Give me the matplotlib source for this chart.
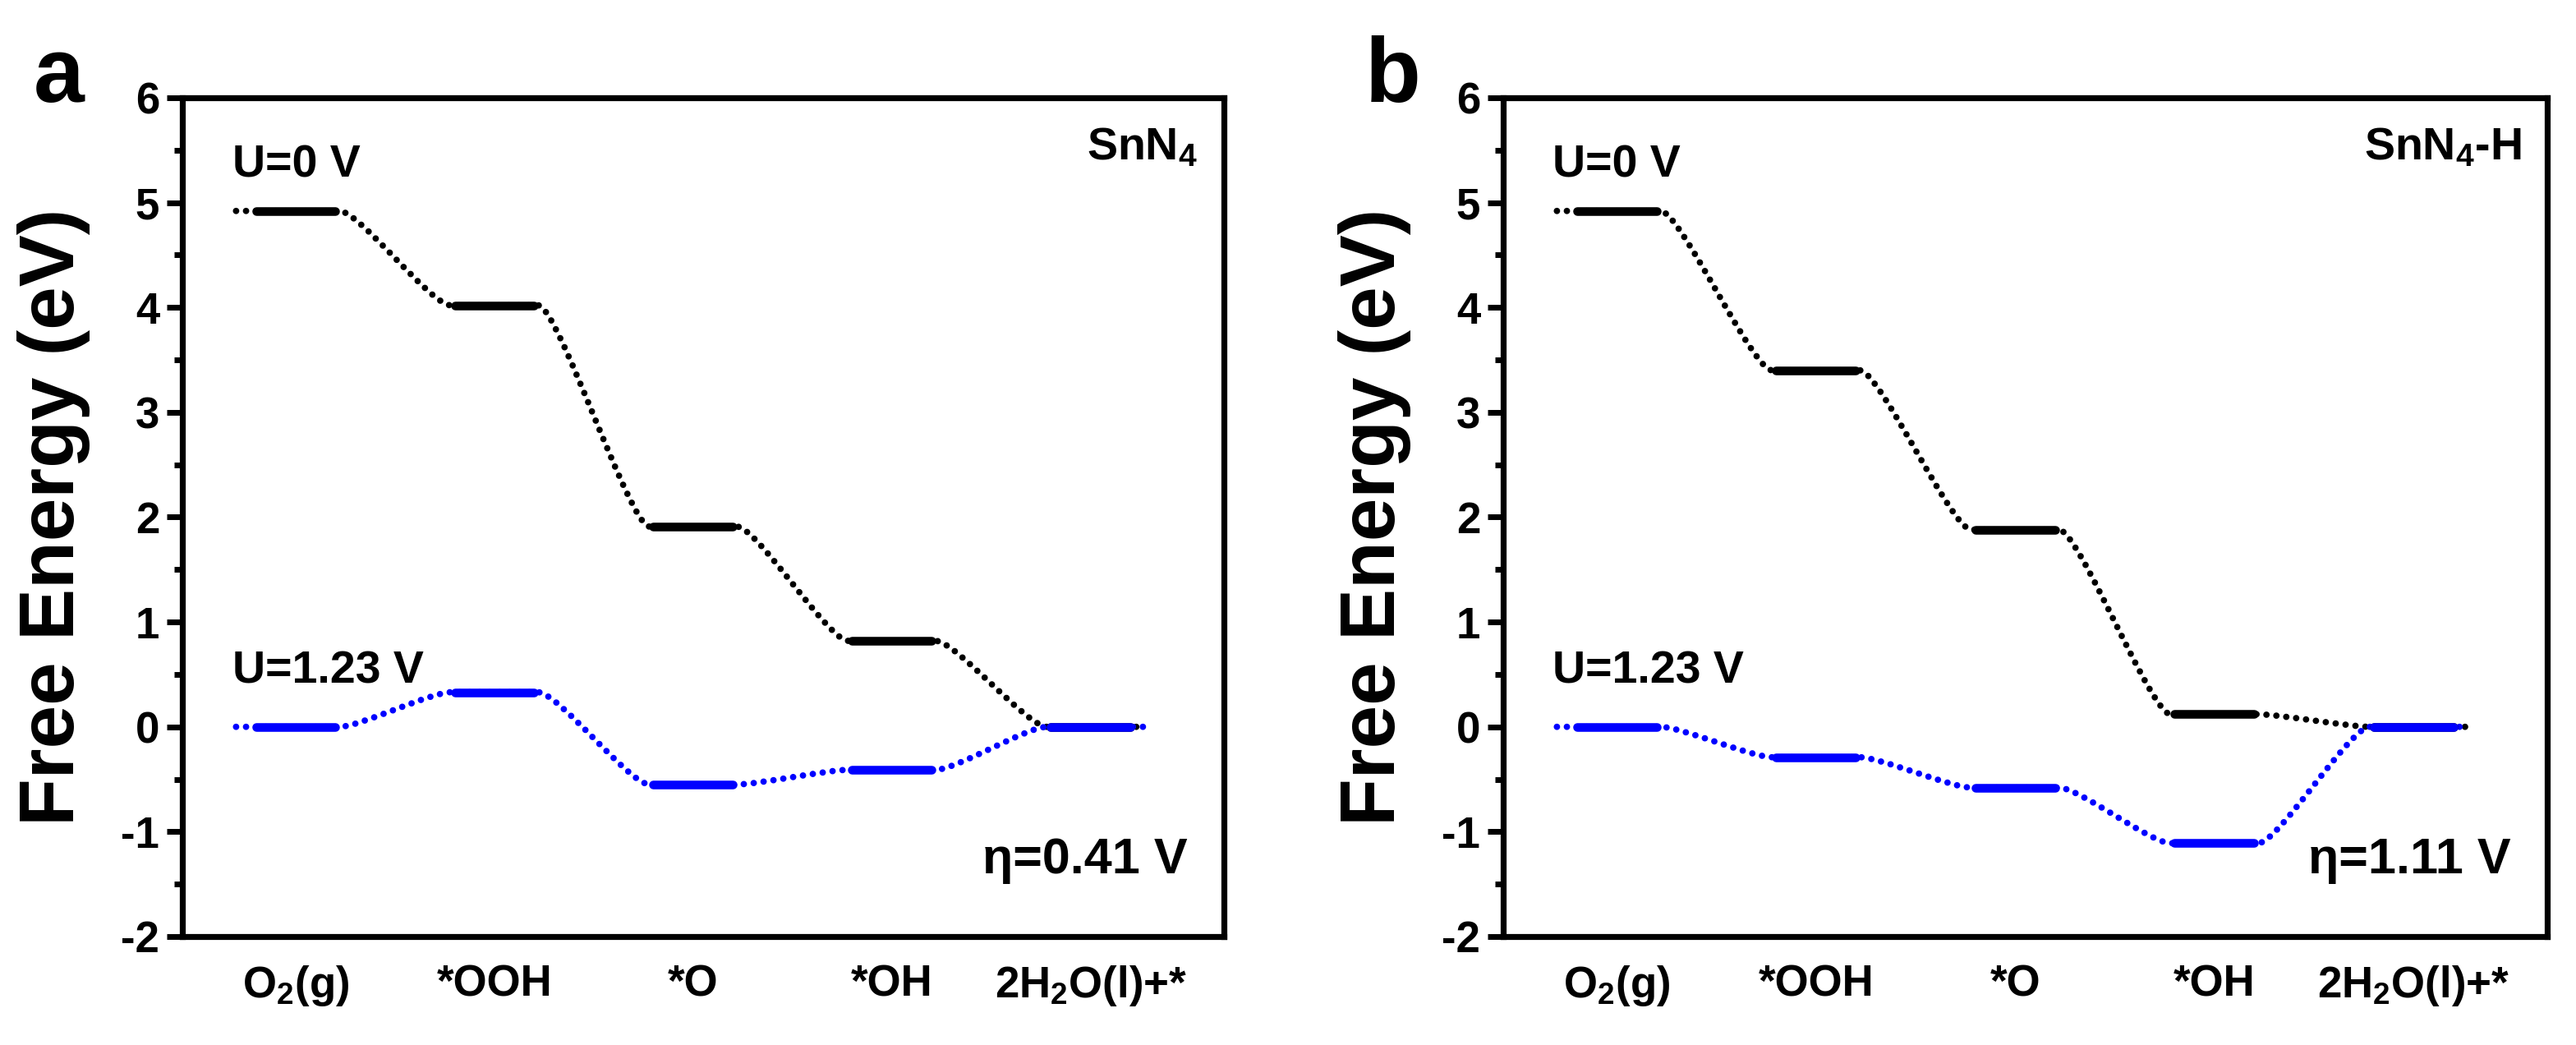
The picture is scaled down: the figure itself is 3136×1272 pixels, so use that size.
import matplotlib
matplotlib.use("Agg")
import matplotlib.pyplot as plt
from matplotlib.path import Path
from matplotlib.patches import PathPatch

plt.rcParams['font.family'] = ['Liberation Sans', 'DejaVu Sans']
plt.rcParams['font.weight'] = 'bold'
plt.rcParams['axes.unicode_minus'] = False
plt.rcParams['mathtext.fontset'] = 'custom'
plt.rcParams['mathtext.rm'] = 'Liberation Sans:bold'
plt.rcParams['mathtext.it'] = 'Liberation Sans:bold'
plt.rcParams['mathtext.bf'] = 'Liberation Sans:bold'
plt.rcParams['mathtext.default'] = 'rm'

# ---- data ----
steps = ['O$_2$(g)', '*OOH', '*O', '*OH', '2H$_2$O(l)+*']
snn4_u0 = [4.92, 4.02, 1.91, 0.82, 0.00]
snn4_u123 = [0.00, 0.33, -0.55, -0.41, 0.00]
snn4h_u0 = [4.92, 3.40, 1.88, 0.12, 0.00]
snn4h_u123 = [0.00, -0.29, -0.58, -1.11, 0.00]
titles = ['SnN$_4$', 'SnN$_4$-H']
eta_labels = ['η=0.41 V', 'η=1.11 V']
panel_letters = ['a', 'b']
yticks = [-2, -1, 0, 1, 2, 3, 4, 5, 6]

HALF = 0.22     # half-width of level bars
CTRL = 0.10     # bezier control offset
STUB_L = 0.30
STUB_R = 0.27


def draw_series(ax, vals, color):
    xs = list(range(1, len(vals) + 1))
    verts = [(xs[0] - STUB_L, vals[0]), (xs[0] + HALF, vals[0])]
    codes = [Path.MOVETO, Path.LINETO]
    for i in range(len(vals) - 1):
        x0, y0 = xs[i] + HALF, vals[i]
        x1, y1 = xs[i + 1] - HALF, vals[i + 1]
        verts += [(x0 + CTRL, y0), (x1 - CTRL, y1), (x1, y1)]
        codes += [Path.CURVE4] * 3
        verts.append((xs[i + 1] + HALF, y1))
        codes.append(Path.LINETO)
    verts.append((xs[-1] + STUB_R, vals[-1]))
    codes.append(Path.LINETO)
    patch = PathPatch(Path(verts, codes), fill=False, edgecolor=color,
                      linewidth=2.8, linestyle=(0, (0.01, 1.55)),
                      capstyle='round', zorder=2)
    ax.add_patch(patch)
    for x, v in zip(xs, vals):
        ax.plot([x - HALF + 0.02, x + HALF - 0.02], [v, v], color=color,
                lw=3.8, solid_capstyle='round', zorder=3)


fig = plt.figure(figsize=(15.68, 6.36), dpi=200)
positions = [[0.0708, 0.1038, 0.4043, 0.8027], [0.5835, 0.1038, 0.4053, 0.8027]]
data = [(snn4_u0, snn4_u123), (snn4h_u0, snn4h_u123)]
letter_x = [0.013, 0.530]

for k in range(2):
    ax = fig.add_axes(positions[k])
    u0, u123 = data[k]
    draw_series(ax, u0, 'black')
    draw_series(ax, u123, '#0000FF')
    ax.set_xlim(0.43, 5.67)
    ax.set_ylim(-2, 6)
    ax.set_yticks(yticks)
    ax.set_yticks([y + 0.5 for y in yticks[:-1]], minor=True)
    ax.set_xticks(range(1, 6))
    ax.set_xticklabels(steps)
    ax.tick_params(axis='x', length=0, pad=12, labelsize=19)
    ax.tick_params(axis='y', which='major', direction='out', length=7,
                   width=2.5, pad=3, labelsize=19)
    ax.tick_params(axis='y', which='minor', direction='out', length=3.5,
                   width=2.5)
    for s in ax.spines.values():
        s.set_linewidth(2.6)
    ax.set_ylabel('Free Energy (eV)', fontsize=34, fontweight='bold')
    ax.yaxis.set_label_coords(-0.088, 0.5)
    ax.text(0.68, 5.24, 'U=0 V', fontsize=20, ha='left', va='baseline')
    ax.text(0.68, 0.42, 'U=1.23 V', fontsize=20, ha='left', va='baseline')
    ax.text(0.975, 0.965, titles[k], transform=ax.transAxes, fontsize=20,
            ha='right', va='top')
    ax.text(0.965, 0.075, eta_labels[k], transform=ax.transAxes, fontsize=22,
            ha='right', va='baseline')
    fig.text(letter_x[k], 1 - 124 / 1272, panel_letters[k], fontsize=40,
             fontweight='bold', ha='left', va='baseline')

fig.savefig('out.png', dpi=200)
